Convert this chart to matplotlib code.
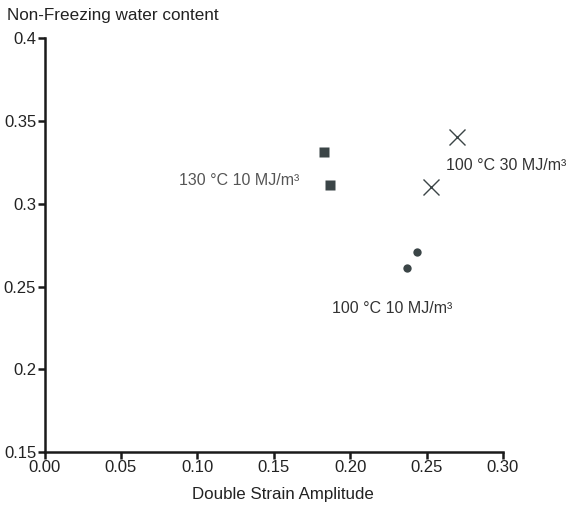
import matplotlib
matplotlib.use("Agg")
import matplotlib.pyplot as plt
from matplotlib.ticker import FormatStrFormatter, FuncFormatter

plt.rcParams['font.family'] = ['Liberation Sans', 'DejaVu Sans']

# non-freezing water content vs double strain amplitude
x_130_10 = [0.183, 0.187]
y_130_10 = [0.331, 0.311]
x_100_30 = [0.270, 0.253]
y_100_30 = [0.340, 0.310]
x_100_10 = [0.244, 0.237]
y_100_10 = [0.271, 0.261]

mk = '#3b4547'
fig = plt.figure(figsize=(5.73, 5.08), dpi=100)
ax = fig.add_axes([0.0777, 0.110, 0.800, 0.815])

ax.plot(x_130_10, y_130_10, 's', color=mk, ms=7, mec='none')
ax.plot(x_100_30, y_100_30, 'x', color=mk, ms=12, mew=1.0)
ax.plot(x_100_10, y_100_10, 'o', color=mk, ms=6, mec='none')

ax.text(0.167, 0.314, '130 °C 10 MJ/m³', fontsize=11.5, color='#555555', ha='right', va='center')
ax.text(0.263, 0.323, '100 °C 30 MJ/m³', fontsize=11.5, color='#333333', ha='left', va='center')
ax.text(0.188, 0.237, '100 °C 10 MJ/m³', fontsize=11.5, color='#333333', ha='left', va='center')

ax.set_xlim(0, 0.30)
ax.set_ylim(0.15, 0.40)
ax.set_xticks([0, 0.05, 0.10, 0.15, 0.20, 0.25, 0.30])
ax.set_yticks([0.15, 0.2, 0.25, 0.3, 0.35, 0.4])
ax.xaxis.set_major_formatter(FormatStrFormatter('%.2f'))
ax.yaxis.set_major_formatter(FuncFormatter(lambda v, p: ('%.2f' % v).rstrip('0')))

for s in ['top', 'right']:
    ax.spines[s].set_visible(False)
for s in ['left', 'bottom']:
    ax.spines[s].set_linewidth(1.8)
    ax.spines[s].set_color('#1a1a1a')
ax.tick_params(direction='out', length=5, width=1.8, color='#1a1a1a',
               labelsize=12, labelcolor='#222222', pad=1)

ax.set_xlabel('Double Strain Amplitude', fontsize=12.2, color='#222222', labelpad=8)
ax.xaxis.set_label_coords(0.52, -0.085)
fig.text(0.013, 0.970, 'Non-Freezing water content', fontsize=12.3, color='#222222', ha='left', va='center')

fig.savefig('out.png', dpi=100)
